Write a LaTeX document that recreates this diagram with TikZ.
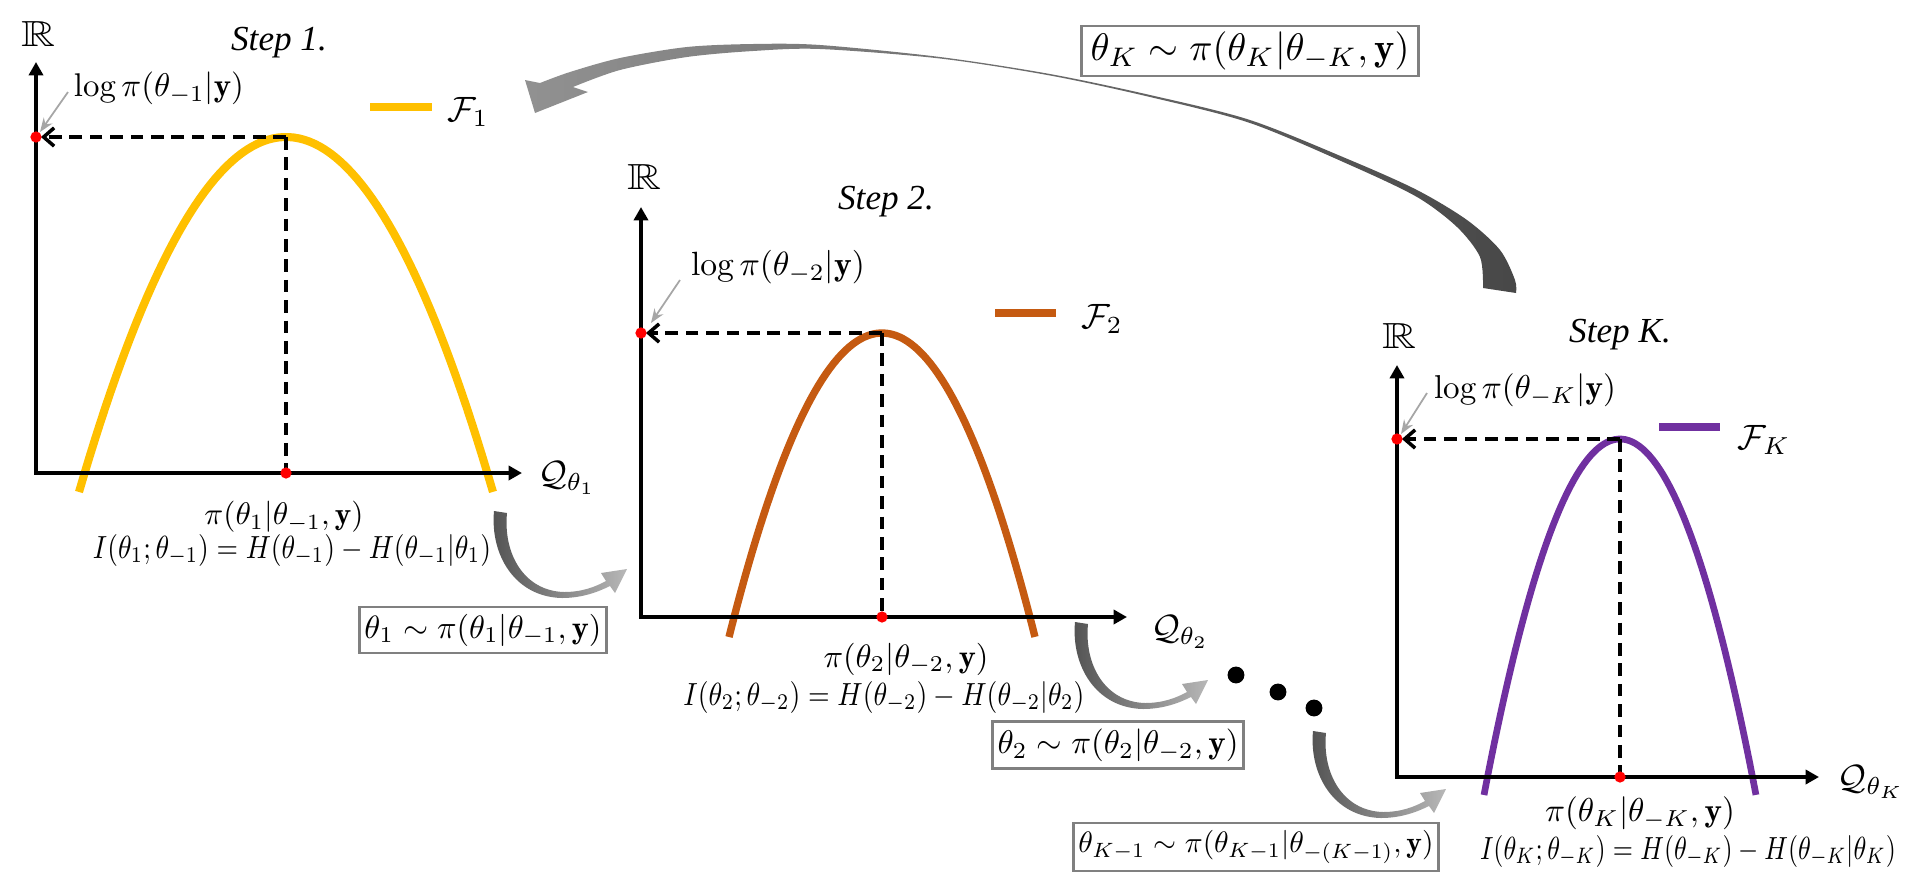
\RequirePackage{fix-cm}
\documentclass[tikz,border=0pt]{standalone}
\usepackage{fontspec}
\usepackage{amsmath,amssymb}
\usepackage{graphicx}
\usetikzlibrary{arrows.meta}
\newfontfamily\stepfont{Liberation Serif}
\definecolor{cyel}{HTML}{FFC000}
\definecolor{corg}{HTML}{C55A11}
\definecolor{cpur}{HTML}{7030A0}
\definecolor{cred}{HTML}{FF0000}
\newlength\pxu
\setlength\pxu{0.01cm}
\newcommand\rz[2]{\resizebox{#1\pxu}{!}{#2}}
\newcommand\rzh[3]{\resizebox{#1\pxu}{#2\pxu}{#3}}
\newcommand\bbR{\resizebox{34\pxu}{25\pxu}{$\mathbb{R}$}}
\newcommand\fsStep{\fontsize{10}{12}\selectfont\stepfont\itshape}
\newcommand\fsF{\fontsize{10}{12}\selectfont}
\begin{document}
\begin{tikzpicture}[x=0.01cm, y=-0.01cm,
  lab/.style={inner sep=0pt},
  axisln/.style={line width=1.35pt, line join=miter, {Triangle[length=3.8pt,width=4pt]}-{Triangle[length=3.8pt,width=4pt]}},
  dashln/.style={line width=1pt, dash pattern=on 3.6pt off 2.2pt},
  barbln/.style={dashln, -{Straight Barb[length=3pt,width=5.2pt]}, shorten >=1.4pt},
  ptr/.style={draw=black!35, line width=0.5pt, -{Stealth[length=4pt,width=3pt]}},
  box/.style={draw=black!50, line width=0.7pt, fill=white, inner xsep=1.4pt, inner ysep=2pt},
  dotk/.style={fill=black},
  carrow/.pic={
    \shade[left color=black!68, right color=black!28]
      (0,0) .. controls (-4,44) and (21,86) .. (68,87)
      .. controls (88,87) and (104,81) .. (116,75)
      -- (121,82) -- (133,58) -- (107,62) -- (112,70)
      .. controls (101,76) and (88,81) .. (70,81)
      .. controls (31,80) and (9,44) .. (13,2) -- cycle;
  }
]
\useasboundingbox (0,0) rectangle (1920,881);

% ---------- big return arrow ----------
\shade[left color=black!43, right color=black!72]
  plot[smooth, tension=0.5] coordinates {(1516,293) (1515,280) (1500,250) (1467,220) (1417,190) (1350,160) (1250,120) (1150,95) (1050,74) (940,57) (820,45) (753,44) (687,47) (620,58) (570,72) (540,83)}
  -- (525,80) -- (535,113) -- (588,92)
  -- plot[smooth, tension=0.5] coordinates {(573,87) (620,70) (687,57) (753,51) (820,49) (940,58.5) (1050,75.5) (1150,97) (1250,123) (1350,165) (1417,197) (1457,227) (1480,257) (1483,288)} -- cycle;

% ---------- Panel 1 ----------
\coordinate (o1) at (36,473);
\coordinate (yt1) at (36,62);
\coordinate (xt1) at (522,473);
\coordinate (pk1) at (286,137);
\coordinate (ya1) at (36,137);
\coordinate (xa1) at (286,473);
\draw[cyel, line width=2.3pt] plot[domain=-1:1, samples=80] ({286+207*\x},{137+355*\x*\x});
\draw[axisln] (yt1) -- (o1) -- (xt1);
\draw[dashln] (pk1) -- (xa1);
\draw[barbln] (pk1) -- (ya1);
\fill[cred] (ya1) circle (1.6pt);
\fill[cred] (xa1) circle (1.6pt);
\node[lab] (R1) at (39,34) {\bbR};
\node[lab, font=\fsStep] (s1) at (279,43) {Step 1.};
\node[lab] (l1) at (159,88) {\rz{170}{$\log\pi(\theta_{-1}|\mathbf{y})$}};
\coordinate (pa1) at (68,92);
\coordinate (pb1) at (40,132);
\draw[ptr] (pa1) -- (pb1);
\draw[cyel, line width=2pt] (370,107) -- (432,107);
\node[lab, font=\fsF] (f1) at (468,112) {$\mathcal{F}_1$};
\node[lab, font=\fsF] (q1) at (567,478) {$\mathcal{Q}_{\theta_1}$};
\node[lab] (p1) at (284,517) {\rz{159}{$\pi(\theta_1|\theta_{-1},\mathbf{y})$}};
\node[lab] (i1) at (292,550) {\rzh{398}{24}{$I(\theta_1;\theta_{-1})=H(\theta_{-1})-H(\theta_{-1}|\theta_1)$}};
\pic at (494,511) {carrow};
\node[box] (b1) at (483,630) {\rz{237}{$\theta_1\sim\pi(\theta_1|\theta_{-1},\mathbf{y})$}};

% ---------- Panel 2 ----------
\coordinate (o2) at (641,617);
\coordinate (yt2) at (641,207);
\coordinate (xt2) at (1127,617);
\coordinate (pk2) at (882,333);
\coordinate (ya2) at (641,333);
\coordinate (xa2) at (882,617);
\draw[corg, line width=2.1pt] plot[domain=-1:1, samples=80] ({882+153*\x},{333+304*\x*\x});
\draw[axisln] (yt2) -- (o2) -- (xt2);
\draw[dashln] (pk2) -- (xa2);
\draw[barbln] (pk2) -- (ya2);
\fill[cred] (ya2) circle (1.6pt);
\fill[cred] (xa2) circle (1.6pt);
\node[lab] (R2) at (644,177) {\bbR};
\node[lab, font=\fsStep] (s2) at (886,202) {Step 2.};
\node[lab] (l2) at (778,267) {\rz{174}{$\log\pi(\theta_{-2}|\mathbf{y})$}};
\coordinate (pa2) at (680,280);
\coordinate (pb2) at (651,323);
\draw[ptr] (pa2) -- (pb2);
\draw[corg, line width=2pt] (995,313) -- (1056,313);
\node[lab, font=\fsF] (f2) at (1102,319) {$\mathcal{F}_2$};
\node[lab, font=\fsF] (q2) at (1180,632) {$\mathcal{Q}_{\theta_2}$};
\node[lab] (p2) at (906,659) {\rz{165}{$\pi(\theta_2|\theta_{-2},\mathbf{y})$}};
\node[lab] (i2) at (884,697) {\rzh{401}{24}{$I(\theta_2;\theta_{-2})=H(\theta_{-2})-H(\theta_{-2}|\theta_2)$}};
\pic at (1075,622) {carrow};
\node[box] (b2) at (1118,745) {\rz{241}{$\theta_2\sim\pi(\theta_2|\theta_{-2},\mathbf{y})$}};

% ---------- dots ----------
\fill[dotk] (1236,675) circle (2.4pt);
\fill[dotk] (1278,692) circle (2.4pt);
\fill[dotk] (1314,708) circle (2.4pt);
\pic at (1313,731) {carrow};
\node[box, inner ysep=2.2pt] (bk1) at (1256,847) {\rz{355}{$\theta_{K-1}\sim\pi(\theta_{K-1}|\theta_{-(K-1)},\mathbf{y})$}};

% ---------- Panel K ----------
\coordinate (oK) at (1397,777);
\coordinate (ytK) at (1397,365);
\coordinate (xtK) at (1819,777);
\coordinate (pkK) at (1620,439);
\coordinate (yaK) at (1397,439);
\coordinate (xaK) at (1620,777);
\draw[cpur, line width=1.9pt] plot[domain=-1:1, samples=80] ({1620+136*\x},{439+356*\x*\x});
\draw[axisln] (ytK) -- (oK) -- (xtK);
\draw[dashln] (pkK) -- (xaK);
\draw[barbln] (pkK) -- (yaK);
\fill[cred] (yaK) circle (1.6pt);
\fill[cred] (xaK) circle (1.6pt);
\node[lab] (RK) at (1399,336) {\bbR};
\node[lab, font=\fsStep] (sK) at (1620,335) {Step K.};
\node[lab] (lK) at (1525,390) {\rz{182}{$\log\pi(\theta_{-K}|\mathbf{y})$}};
\coordinate (paK) at (1427,393);
\coordinate (pbK) at (1401,434);
\draw[ptr] (paK) -- (pbK);
\draw[cpur, line width=2pt] (1659,427) -- (1720,427);
\node[lab, font=\fsF] (fK) at (1764,440) {$\mathcal{F}_K$};
\node[lab, font=\fsF] (qK) at (1871,782) {$\mathcal{Q}_{\theta_K}$};
\node[lab] (pK) at (1640,813) {\rz{190}{$\pi(\theta_K|\theta_{-K},\mathbf{y})$}};
\node[lab] (iK) at (1688,851) {\rzh{416}{24}{$I(\theta_K;\theta_{-K})=H(\theta_{-K})-H(\theta_{-K}|\theta_K)$}};

% ---------- top box ----------
\node[box, inner xsep=2.5pt, inner ysep=1.7pt] (bK) at (1250,51) {\rz{319}{$\theta_K\sim\pi(\theta_K|\theta_{-K},\mathbf{y})$}};
\end{tikzpicture}
\end{document}
